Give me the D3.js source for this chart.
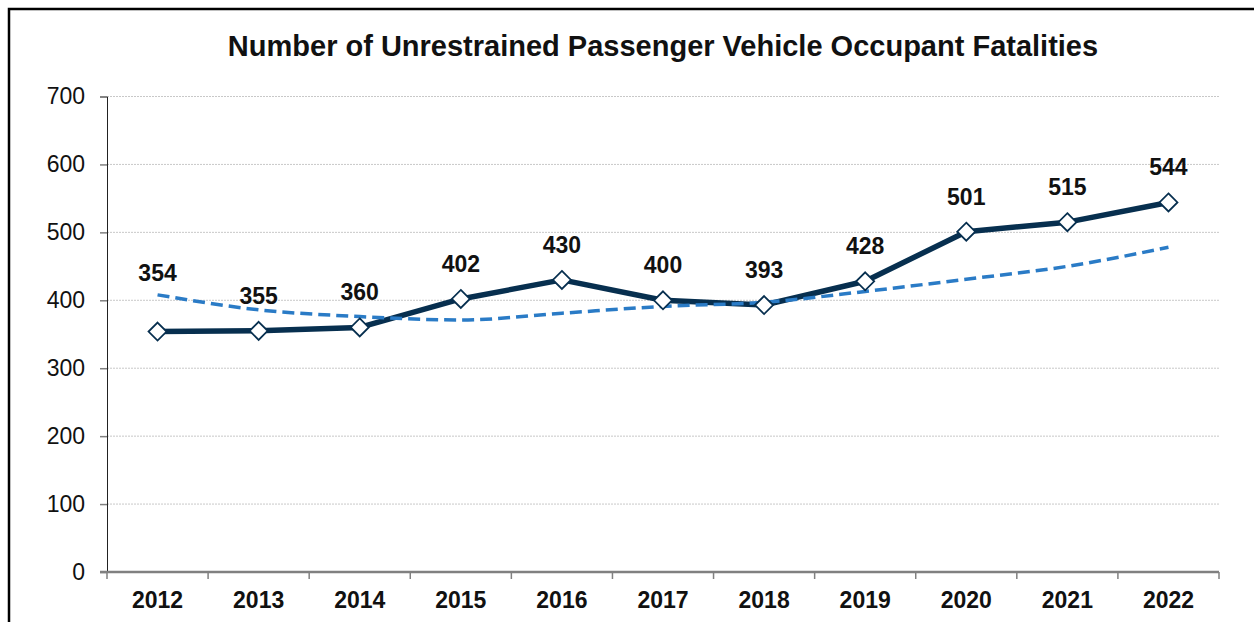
<!DOCTYPE html>
<html>
<head>
<meta charset="utf-8">
<script src="https://cdn.jsdelivr.net/npm/d3@7/dist/d3.min.js"></script>
<style>
  body { margin: 0; background: #fff; }
  svg { display: block; font-family: "Liberation Sans", Arial, sans-serif; }
  .title { font-size: 29px; font-weight: bold; fill: #111; }
  .yaxis text { font-size: 23px; fill: #111; }
  .xaxis text { font-size: 23px; font-weight: bold; fill: #111; }
  .vlabel { font-size: 23px; font-weight: bold; fill: #111; }
</style>
</head>
<body>
<svg id="chart"></svg>
<script>
// data
var years = ["2012", "2013", "2014", "2015", "2016", "2017", "2018", "2019", "2020", "2021", "2022"];
var fatalities = [354, 355, 360, 402, 430, 400, 393, 428, 501, 515, 544];
var trend = [408, 386, 376, 371, 381, 391, 397, 413, 431, 450, 478];
var yTicks = [0, 100, 200, 300, 400, 500, 600, 700];

var screen = { width: 1254, height: 622 };
var margins = { top: 96.5, bottom: 50, left: 107, right: 35 };
var graph = {
  width: screen.width - margins.left - margins.right,
  height: screen.height - margins.top - margins.bottom
};

var svg = d3.select("#chart").attr("width", screen.width).attr("height", screen.height);

// outer frame
svg.append("path")
  .attr("d", "M9,640 L9,9 L1270,9")
  .attr("fill", "none")
  .attr("stroke", "#000")
  .attr("stroke-width", 2.5);

var g = svg.append("g")
  .attr("transform", "translate(" + margins.left + "," + margins.top + ")");

var xScale = d3.scaleBand().domain(years).range([0, graph.width]);
var yScale = d3.scaleLinear().domain([0, 700]).range([graph.height, 0]);

// gridlines
g.append("g").selectAll("line")
  .data(yTicks.filter(function (d) { return d > 0; }))
  .enter().append("line")
  .attr("x1", 0).attr("x2", graph.width)
  .attr("y1", function (d) { return yScale(d); })
  .attr("y2", function (d) { return yScale(d); })
  .attr("stroke", "#c8c8c8")
  .attr("stroke-width", 1)
  .attr("stroke-dasharray", "2,1");

// y axis
var yAxis = d3.axisLeft(yScale).tickValues(yTicks).tickSize(7).tickPadding(15);
var yG = g.append("g").classed("yaxis", true).call(yAxis);
yG.select(".domain").attr("stroke", "#222").attr("stroke-width", 1);
yG.selectAll(".tick line").attr("stroke", "#808080").attr("stroke-width", 1.5);

// x axis
var xAxis = d3.axisBottom(xScale).tickSize(0).tickPadding(20);
var xG = g.append("g").classed("xaxis", true)
  .attr("transform", "translate(0," + graph.height + ")")
  .call(xAxis);
xG.select(".domain").remove();
xG.append("line")
  .attr("x1", -7).attr("x2", graph.width)
  .attr("stroke", "#808080").attr("stroke-width", 2.5);
xG.selectAll(".bound")
  .data(years.concat(["end"]))
  .enter().append("line")
  .attr("x1", function (d, i) { return i * xScale.step(); })
  .attr("x2", function (d, i) { return i * xScale.step(); })
  .attr("y1", 0).attr("y2", 7)
  .attr("stroke", "#808080").attr("stroke-width", 1.5);

var cx = function (d, i) { return xScale(years[i]) + xScale.bandwidth() / 2; };

// main line
var line = d3.line()
  .x(function (d, i) { return cx(d, i); })
  .y(function (d) { return yScale(d); });

g.append("path")
  .datum(fatalities)
  .attr("d", line)
  .attr("fill", "none")
  .attr("stroke", "#072f4f")
  .attr("stroke-width", 5.5)
  .attr("stroke-linejoin", "round");

// trend line
var trendLine = d3.line()
  .curve(d3.curveMonotoneX)
  .x(function (d, i) { return cx(d, i); })
  .y(function (d) { return yScale(d); });

g.append("path")
  .datum(trend)
  .attr("d", trendLine)
  .attr("fill", "none")
  .attr("stroke", "#2a7bc6")
  .attr("stroke-width", 3.5)
  .attr("stroke-dasharray", "12,6");

// markers
g.selectAll(".pt")
  .data(fatalities)
  .enter().append("path")
  .attr("d", "M0,-9 L9,0 L0,9 L-9,0 Z")
  .attr("transform", function (d, i) { return "translate(" + cx(d, i) + "," + yScale(d) + ")"; })
  .attr("fill", "#fff")
  .attr("stroke", "#072f4f")
  .attr("stroke-width", 1.8);

// value labels
g.selectAll(".vlabel")
  .data(fatalities)
  .enter().append("text")
  .classed("vlabel", true)
  .attr("text-anchor", "middle")
  .attr("x", function (d, i) { return cx(d, i); })
  .attr("y", function (d, i) { return yScale(d) - (i === 0 ? 51 : 27); })
  .text(function (d) { return d; });

// title
svg.append("text")
  .classed("title", true)
  .attr("text-anchor", "middle")
  .attr("x", margins.left + graph.width / 2)
  .attr("y", 56)
  .text("Number of Unrestrained Passenger Vehicle Occupant Fatalities");
</script>
</body>
</html>
